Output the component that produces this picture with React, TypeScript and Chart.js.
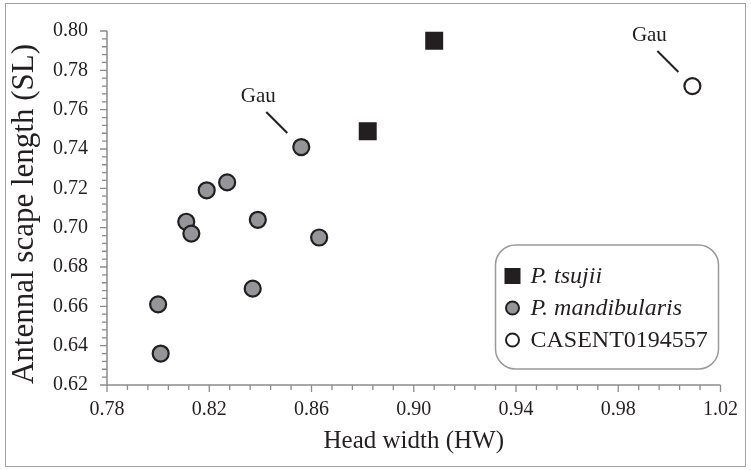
import React, { useEffect, useRef } from "react";
import { Chart, registerables } from "chart.js";

Chart.register(...registerables);

// ---------- data ----------
const seriesNames = ["P. tsujii", "P. mandibularis", "CASENT0194557"];
const seriesItalic = [true, true, false];

const tsujiiHW = [0.882, 0.908];
const tsujiiSL = [0.749, 0.795];

const mandibularisHW = [0.856, 0.819, 0.827, 0.811, 0.813, 0.839, 0.863, 0.837, 0.8, 0.801];
const mandibularisSL = [0.741, 0.719, 0.723, 0.703, 0.697, 0.704, 0.695, 0.669, 0.661, 0.636];

const casentHW = [1.009];
const casentSL = [0.772];

const hwRange = [0.78, 1.02];
const hwMajorStep = 0.04;
const slRange = [0.62, 0.8];
const slMajorStep = 0.02;
const minorPerMajor = 5;

const xTitle = "Head width (HW)";
const yTitle = "Antennal scape length (SL)";

const gauNotes = [
  { series: 1, point: 0, text: "Gau" },
  { series: 2, point: 0, text: "Gau" },
];

// ---------- style ----------
const FONT = "'Liberation Serif', 'Times New Roman', Times, serif";
const INK = "#231f20";
const AXIS = "#8c8c8c";
const GRAY_FILL = "#939598";

const toPoints = (xs: number[], ys: number[]) => xs.map((x, i) => ({ x, y: ys[i] }));

const axesPlugin = {
  id: "axesTicks",
  beforeDatasetsDraw(chart: any) {
    const { ctx, chartArea: a, scales } = chart;
    const xs = scales.x;
    const ys = scales.y;
    ctx.save();
    ctx.strokeStyle = AXIS;
    ctx.lineWidth = 1.5;
    ctx.beginPath();
    ctx.moveTo(a.left, a.top);
    ctx.lineTo(a.left, a.bottom);
    ctx.lineTo(a.right, a.bottom);
    ctx.stroke();
    ctx.lineWidth = 1.3;
    ctx.beginPath();
    const nx = Math.round(((hwRange[1] - hwRange[0]) / hwMajorStep) * minorPerMajor);
    for (let i = 0; i <= nx; i++) {
      const v = hwRange[0] + (i * hwMajorStep) / minorPerMajor;
      const px = xs.getPixelForValue(v);
      const len = i % minorPerMajor === 0 ? 7 : 5;
      ctx.moveTo(px, a.bottom);
      ctx.lineTo(px, a.bottom + len);
    }
    const ny = Math.round(((slRange[1] - slRange[0]) / slMajorStep) * minorPerMajor);
    for (let i = 0; i <= ny; i++) {
      const v = slRange[0] + (i * slMajorStep) / minorPerMajor;
      const py = ys.getPixelForValue(v);
      const len = i % minorPerMajor === 0 ? 7 : 5;
      ctx.moveTo(a.left, py);
      ctx.lineTo(a.left - len, py);
    }
    ctx.stroke();

    // vertical axis title, centred on the plot height
    ctx.fillStyle = INK;
    ctx.font = `31px ${FONT}`;
    ctx.textAlign = "center";
    ctx.textBaseline = "middle";
    ctx.translate(25, (a.top + a.bottom) / 2 + 6);
    ctx.rotate(-Math.PI / 2);
    ctx.fillText(yTitle, 0, 0);
    ctx.restore();
  },
};

const gauPlugin = {
  id: "gauNotes",
  afterDatasetsDraw(chart: any) {
    const { ctx } = chart;
    ctx.save();
    ctx.strokeStyle = INK;
    ctx.lineWidth = 2;
    ctx.fillStyle = INK;
    ctx.font = `21px ${FONT}`;
    ctx.textAlign = "center";
    ctx.textBaseline = "middle";
    gauNotes.forEach((n) => {
      const el = chart.getDatasetMeta(n.series).data[n.point];
      if (!el) return;
      const { x, y } = el;
      ctx.beginPath();
      ctx.moveTo(x - 35, y - 35);
      ctx.lineTo(x - 14, y - 14);
      ctx.stroke();
      ctx.fillText(n.text, x - 43, y - 51);
    });
    ctx.restore();
  },
};

const legendPlugin = {
  id: "boxLegend",
  afterDraw(chart: any) {
    const { ctx, chartArea: a } = chart;
    const right = a.right - 2;
    const bottom = a.bottom - 16;
    const left = right - 223;
    const top = bottom - 124;
    const r = 20;
    ctx.save();
    ctx.beginPath();
    ctx.moveTo(left + r, top);
    ctx.arcTo(right, top, right, bottom, r);
    ctx.arcTo(right, bottom, left, bottom, r);
    ctx.arcTo(left, bottom, left, top, r);
    ctx.arcTo(left, top, right, top, r);
    ctx.closePath();
    ctx.fillStyle = "#ffffff";
    ctx.fill();
    ctx.strokeStyle = "#9a9a9a";
    ctx.lineWidth = 1.5;
    ctx.stroke();

    chart.data.datasets.forEach((ds: any, i: number) => {
      const cy = top + 31 + i * 32;
      const mx = left + 17;
      ctx.beginPath();
      if (ds.pointStyle === "rect") {
        ctx.fillStyle = ds.backgroundColor;
        ctx.fillRect(mx - 8, cy - 8, 16, 16);
      } else {
        ctx.arc(mx, cy, 6.5, 0, Math.PI * 2);
        ctx.fillStyle = ds.backgroundColor;
        ctx.fill();
        ctx.strokeStyle = ds.borderColor;
        ctx.lineWidth = 2;
        ctx.stroke();
      }
      ctx.fillStyle = INK;
      ctx.font = `${seriesItalic[i] ? "italic " : ""}24px ${FONT}`;
      ctx.textAlign = "left";
      ctx.textBaseline = "middle";
      ctx.fillText(ds.label, left + 35, cy + 1);
    });
    ctx.restore();
  },
};

export default function App() {
  const canvasRef = useRef<HTMLCanvasElement | null>(null);

  useEffect(() => {
    if (!canvasRef.current) return;
    const chart = new Chart(canvasRef.current, {
      type: "scatter",
      data: {
        datasets: [
          {
            label: seriesNames[0],
            data: toPoints(tsujiiHW, tsujiiSL),
            pointStyle: "rect",
            pointRadius: 12.7,
            pointHoverRadius: 12.7,
            backgroundColor: INK,
            borderColor: INK,
            borderWidth: 0,
          },
          {
            label: seriesNames[1],
            data: toPoints(mandibularisHW, mandibularisSL),
            pointStyle: "circle",
            pointRadius: 8,
            pointHoverRadius: 8,
            backgroundColor: GRAY_FILL,
            borderColor: INK,
            borderWidth: 2.2,
          },
          {
            label: seriesNames[2],
            data: toPoints(casentHW, casentSL),
            pointStyle: "circle",
            pointRadius: 8,
            pointHoverRadius: 8,
            backgroundColor: "#ffffff",
            borderColor: INK,
            borderWidth: 2.2,
          },
        ],
      },
      options: {
        animation: false,
        responsive: false,
        devicePixelRatio: 1,
        layout: { padding: { left: 0, top: 25, right: 29, bottom: 0 } },
        plugins: { legend: { display: false }, tooltip: { enabled: false } },
        scales: {
          x: {
            type: "linear",
            min: hwRange[0],
            max: hwRange[1],
            grid: { display: false, drawTicks: false },
            border: { display: false },
            ticks: {
              stepSize: hwMajorStep,
              padding: 13,
              color: INK,
              font: { family: FONT, size: 20 },
              maxRotation: 0,
              callback: (v: any) => Number(v).toFixed(2),
            },
            title: {
              display: true,
              text: xTitle,
              color: INK,
              font: { family: FONT, size: 25 },
              padding: { top: 0, bottom: 14 },
            },
            afterFit: (s: any) => {
              s.height = 85;
            },
          },
          y: {
            type: "linear",
            min: slRange[0],
            max: slRange[1],
            grid: { display: false, drawTicks: false },
            border: { display: false },
            ticks: {
              stepSize: slMajorStep,
              padding: 19,
              color: INK,
              font: { family: FONT, size: 20 },
              callback: (v: any) => Number(v).toFixed(2),
            },
            title: { display: false },
            afterFit: (s: any) => {
              s.width = 107;
            },
          },
        },
      },
      plugins: [axesPlugin, gauPlugin, legendPlugin],
    });
    return () => chart.destroy();
  }, []);

  return (
    <div style={{ position: "fixed", left: 0, top: 0, width: 751, height: 470, background: "#fff" }}>
      <canvas ref={canvasRef} width={751} height={470} style={{ width: 751, height: 470, display: "block" }} />
      <div
        style={{
          position: "absolute",
          left: 5,
          top: 3,
          width: 739,
          height: 462,
          border: "1.5px solid #a3a3a3",
          pointerEvents: "none",
        }}
      />
    </div>
  );
}
